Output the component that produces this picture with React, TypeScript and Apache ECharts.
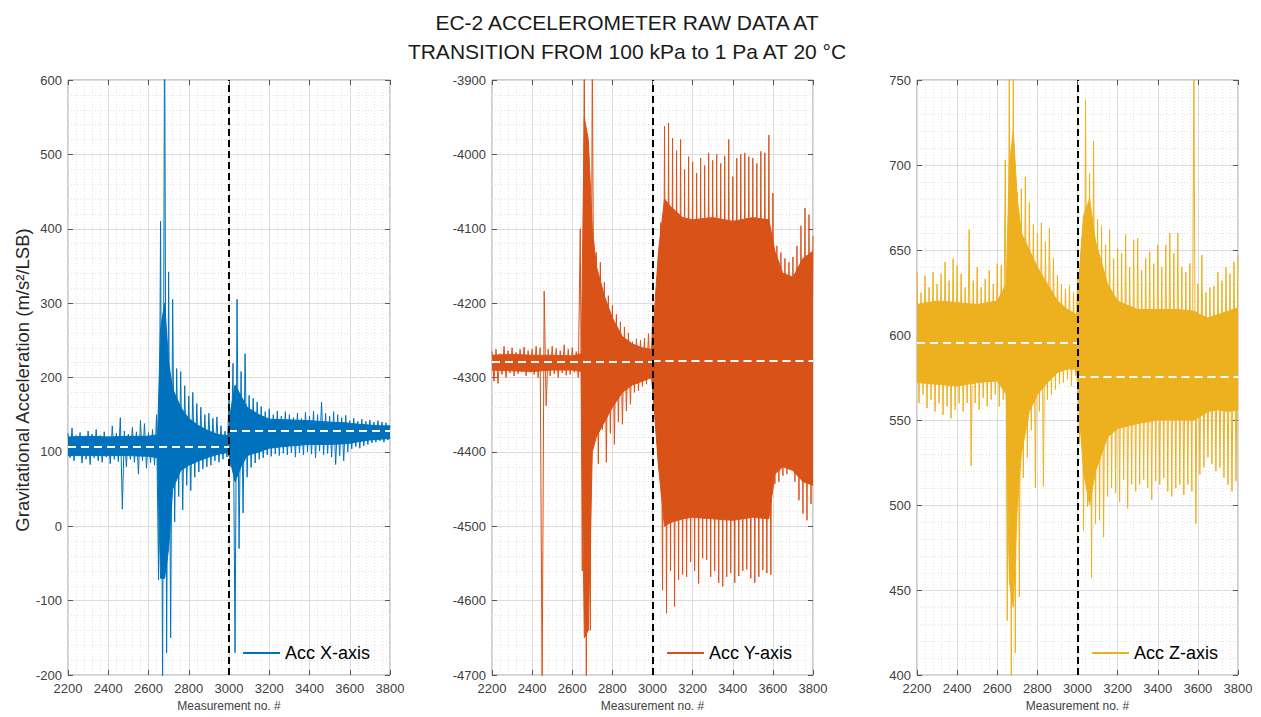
import React, { useEffect, useRef } from "react";
import * as echarts from "echarts";

// ---- Data ----
// Spike traces: alternating upper / lower excursions, sampled every 20 measurements.
const sampleStart = 2200;
const sampleStep = 20;

const accXUpper = [
  125, 132, 122, 126, 120, 128, 124, 130, 122, 127,
  121, 135, 125, 146, 128, 124, 133, 127, 142, 138,
  126, 130, 150, 410, 700, 342, 305, 212, 208, 189,
  175, 180, 165, 160, 150, 152, 145, 147, 135, 128,
  170, 219, 305, 208, 232, 176, 172, 167, 161, 154,
  158, 150, 155, 148, 154, 150, 146, 152, 145, 153,
  148, 155, 150, 167, 152, 148, 154, 150, 146, 149,
  142, 145, 141, 144, 141, 143, 140, 142, 140, 139,
  135,
];
const accXLower = [
  92, 88, 95, 85, 90, 83, 92, 88, 86, 93,
  84, 90, 87, 23, 80, 90, 86, 70, 88, 78,
  85, 82, -72, -220, -170, -150, 6, 40, 22, 55,
  48, 66, 73, 77, 80, 82, 88, 86, 90, 93,
  80, -170, -30, 18, 66, 79, 85, 90, 92, 96,
  94, 97, 95, 98, 96, 99, 93, 99, 96, 100,
  97, 92, 101, 96, 98, 93, 83, 95, 88, 100,
  104, 107, 105, 108, 110, 112, 113, 115, 113, 116,
];
const accYUpper = [
  -4265, -4262, -4268, -4258, -4264, -4260, -4266, -4262, -4259, -4264,
  -4262, -4258, -4260, -4184, -4262, -4258, -4261, -4264, -4256, -4262,
  -4260, -4265, -4100, -3850, -4043, -3860, -4132, -4145, -4172, -4190,
  -4203, -4215, -4225, -4232, -4240, -4252, -4248, -4250, -4247, -4241,
  -4225, -4225, -4092, -3962, -3958, -3978, -3995, -3980, -4020, -4003,
  -4010, -4025, -4005, -4015, -3998, -4008, -4000, -4012, -4002, -3980,
  -4030, -4005, -4000, -3998, -4003, -4005, -4012, -3996, -3998, -3974,
  -4052, -4123, -4132, -4140, -4145, -4138, -4123, -4096, -4072, -4081,
  -4110,
];
const accYLower = [
  -4305, -4308, -4296, -4300, -4294, -4298, -4295, -4292, -4298, -4293,
  -4296, -4300, -4720, -4338, -4298, -4295, -4300, -4294, -4297, -4296,
  -4293, -4300, -4560, -4740, -4640, -4380, -4416, -4370, -4414, -4375,
  -4390, -4360, -4363, -4345, -4336, -4320, -4318, -4312, -4309, -4302,
  -4323, -4420, -4586, -4617, -4560, -4608, -4572, -4565, -4568, -4548,
  -4560, -4577, -4543, -4545, -4568, -4560, -4576, -4581, -4568, -4563,
  -4576, -4567, -4560, -4558, -4570, -4576, -4568, -4559, -4563, -4565,
  -4443, -4440, -4432, -4430, -4416, -4440, -4465, -4483, -4492, -4470,
];
const accZUpper = [
  637, 625, 635, 628, 637, 630, 636, 643, 632, 645,
  641, 636, 628, 662, 632, 640, 628, 633, 638, 630,
  642, 641, 703, 760, 760, 684, 686, 693, 678, 665,
  660, 666, 655, 663, 645, 635, 630, 627, 629, 625,
  635, 657, 738, 695, 714, 668, 664, 653, 662, 645,
  651, 648, 659, 640, 656, 657, 638, 645, 649, 642,
  653, 640, 653, 660, 648, 660, 640, 637, 642, 760,
  630, 647, 625, 628, 629, 637, 632, 640, 636, 643,
  647,
];
const accZLower = [
  560, 565, 557, 562, 555, 560, 553, 558, 551, 556,
  560, 555, 560, 523, 560, 556, 563, 558, 562, 565,
  558, 562, 432, 395, 413, 446, 516, 528, 544, 510,
  555, 511, 562, 565, 568, 571, 572, 574, 570, 576,
  536, 485, 499, 457, 489, 491, 481, 505, 510, 507,
  502, 515, 498, 512, 508, 512, 515, 510, 503, 514,
  512, 516, 508, 505, 510, 512, 506, 512, 508, 489,
  518, 522, 528, 524, 520, 522, 516, 512, 508, 514,
];

// Dense core of each signal (solid band), read at these measurement numbers.
const coreAt = [
  2200, 2300, 2400, 2500, 2600, 2645, 2660, 2680, 2700, 2720,
  2760, 2800, 2850, 2900, 2950, 2995, 3005, 3030, 3060, 3090,
  3150, 3200, 3300, 3400, 3500, 3580, 3610, 3650, 3700, 3750, 3800,
];
const coreXLow = [
  95, 95, 95, 95, 94, 92, -70, -70, -30, 50,
  75, 82, 88, 93, 97, 99, 90, 60, 80, 95,
  100, 105, 108, 110, 110, 111, 112, 114, 116, 117, 118,
];
const coreXHigh = [
  120, 121, 120, 121, 121, 123, 265, 300, 220, 185,
  160, 145, 135, 128, 123, 122, 150, 190, 175, 160,
  150, 144, 143, 142, 140, 139, 138, 137, 136, 135, 135,
];
const coreYLow = [
  -4290, -4291, -4292, -4290, -4290, -4292, -4650, -4640, -4400, -4380,
  -4360, -4340, -4320, -4310, -4305, -4300, -4330, -4420, -4500, -4495,
  -4490, -4488, -4490, -4492, -4488, -4490, -4430, -4420, -4425, -4440, -4445,
];
const coreYHigh = [
  -4270, -4269, -4270, -4270, -4271, -4268, -3950, -3980, -4100, -4150,
  -4190, -4220, -4245, -4255, -4260, -4262, -4230, -4130, -4060, -4070,
  -4085, -4088, -4085, -4090, -4085, -4088, -4130, -4160, -4165, -4140, -4130,
];
const coreZLow = [
  572, 571, 570, 572, 573, 565, 455, 440, 500, 530,
  555, 565, 572, 578, 580, 580, 560, 520, 500, 520,
  540, 545, 548, 550, 550, 550, 552, 555, 556, 555, 556,
];
const coreZHigh = [
  618, 620, 619, 618, 620, 630, 700, 720, 680, 660,
  650, 640, 630, 620, 615, 612, 630, 670, 680, 655,
  630, 620, 615, 615, 615, 614, 612, 610, 612, 614, 616,
];

// Mean values before / after the pressure transition
const transitionAt = 3000;
const meanX = [107, 128];
const meanY = [-4279, -4277];
const meanZ = [595.7, 575.3];

const seriesNames = ["Acc X-axis", "Acc Y-axis", "Acc Z-axis"];
const seriesColors = ["#0072BD", "#D95319", "#EDB120"];
const xTicks = { min: 2200, max: 3800, interval: 200 };
const yRanges = [
  { min: -200, max: 600, interval: 100 },
  { min: -4700, max: -3900, interval: 100 },
  { min: 400, max: 750, interval: 50 },
];

function buildTrace(upper: number[], lower: number[]) {
  const pts: [number, number][] = [];
  for (let i = 0; i < upper.length; i++) {
    const x = sampleStart + i * sampleStep;
    pts.push([x, upper[i]]);
    if (i < lower.length) pts.push([x + sampleStep / 2, lower[i]]);
  }
  return pts;
}

function buildCore(low: number[], high: number[]) {
  return low.map((lo, j) => [coreAt[j], lo, high[j]]);
}

const FONT = "Liberation Sans, Arial, Helvetica, sans-serif";
const fmt = (v: number) => String(v);

export default function App() {
  const ref = useRef<HTMLDivElement>(null);

  useEffect(() => {
    if (!ref.current) return;
    const chart = echarts.init(ref.current, undefined, { renderer: "svg" });

    const grids = [
      { left: 68, top: 80, width: 322, height: 599 },
      { left: 492, top: 80, width: 321, height: 599 },
      { left: 917, top: 80, width: 321, height: 599 },
    ];
    const traces = [
      buildTrace(accXUpper, accXLower),
      buildTrace(accYUpper, accYLower),
      buildTrace(accZUpper, accZLower),
    ];
    const cores = [
      buildCore(coreXLow, coreXHigh),
      buildCore(coreYLow, coreYHigh),
      buildCore(coreZLow, coreZHigh),
    ];
    const means = [meanX, meanY, meanZ];
    const legendPos = [
      { left: 243, top: 644 },
      { left: 667, top: 644 },
      { left: 1092, top: 644 },
    ];

    const tickStyle = { show: true, inside: true, length: 5, lineStyle: { color: "#555" } };
    const xAxes: any[] = [];
    const yAxes: any[] = [];
    grids.forEach((_, i) => {
      xAxes.push({
        type: "value",
        gridIndex: i,
        min: xTicks.min,
        max: xTicks.max,
        interval: xTicks.interval,
        position: "bottom",
        axisLine: { show: false, onZero: false },
        axisTick: tickStyle,
        axisLabel: { color: "#404040", fontSize: 13, fontFamily: FONT, margin: 7, formatter: fmt },
        splitLine: { show: true, lineStyle: { color: "#dcdcdc", width: 1 } },
        minorTick: { show: false, splitNumber: 5 },
        minorSplitLine: { show: true, lineStyle: { color: "#e2e2e2", width: 1, type: [1, 2] } },
        name: "Measurement no. #",
        nameLocation: "middle",
        nameGap: 25,
        nameTextStyle: { color: "#404040", fontSize: 12, fontFamily: FONT },
      });
      yAxes.push({
        type: "value",
        gridIndex: i,
        min: yRanges[i].min,
        max: yRanges[i].max,
        interval: yRanges[i].interval,
        position: "left",
        axisLine: { show: false, onZero: false },
        axisTick: tickStyle,
        axisLabel: { color: "#404040", fontSize: 13, fontFamily: FONT, margin: 6, formatter: fmt },
        splitLine: { show: true, lineStyle: { color: "#dcdcdc", width: 1 } },
        minorTick: { show: false, splitNumber: 5 },
        minorSplitLine: { show: true, lineStyle: { color: "#e2e2e2", width: 1, type: [1, 2] } },
      });
    });
    grids.forEach((_, i) => {
      xAxes.push({
        type: "value",
        gridIndex: i,
        min: xTicks.min,
        max: xTicks.max,
        interval: xTicks.interval,
        position: "top",
        axisLine: { show: false, onZero: false },
        axisTick: tickStyle,
        axisLabel: { show: false },
        splitLine: { show: false },
      });
      yAxes.push({
        type: "value",
        gridIndex: i,
        min: yRanges[i].min,
        max: yRanges[i].max,
        interval: yRanges[i].interval,
        position: "right",
        axisLine: { show: false, onZero: false },
        axisTick: tickStyle,
        axisLabel: { show: false },
        splitLine: { show: false },
      });
    });

    const series: any[] = [];
    grids.forEach((_, i) => {
      const color = seriesColors[i];
      series.push({
        name: "core-" + i,
        type: "custom",
        xAxisIndex: i,
        yAxisIndex: i,
        data: cores[i],
        encode: { x: 0, y: [1, 2] },
        clip: true,
        silent: true,
        z: 1,
        renderItem: (params: any, api: any) => {
          if (params.dataIndexInside !== 0) return null;
          const n = params.dataInsideLength;
          const top: number[][] = [];
          const bottom: number[][] = [];
          for (let j = 0; j < n; j++) {
            const x = api.value(0, j);
            top.push(api.coord([x, api.value(2, j)]));
            bottom.push(api.coord([x, api.value(1, j)]));
          }
          return {
            type: "polygon",
            shape: { points: top.concat(bottom.reverse()) },
            style: { fill: color, stroke: color, lineWidth: 1 },
          };
        },
      });
    });
    grids.forEach((_, i) => {
      const m = means[i];
      series.push({
        name: seriesNames[i],
        type: "line",
        xAxisIndex: i,
        yAxisIndex: i,
        data: traces[i],
        symbol: "none",
        showSymbol: false,
        clip: true,
        lineStyle: { color: seriesColors[i], width: 1 },
        itemStyle: { color: seriesColors[i] },
        z: 2,
        markLine: {
          silent: true,
          symbol: "none",
          animation: false,
          label: { show: false },
          data: [
            [
              { coord: [xTicks.min, m[0]], lineStyle: { color: "#ffffff", width: 2, type: [8, 5] } },
              { coord: [transitionAt, m[0]] },
            ],
            [
              { coord: [transitionAt, m[1]], lineStyle: { color: "#ffffff", width: 2, type: [8, 5] } },
              { coord: [xTicks.max, m[1]] },
            ],
            { xAxis: transitionAt, lineStyle: { color: "#000000", width: 2, type: [7, 4] } },
          ],
        },
      });
    });

    const option: any = {
      animation: false,
      backgroundColor: "#ffffff",
      grid: grids.map((g) => ({
        ...g,
        show: true,
        borderColor: "#9a9a9a",
        borderWidth: 1,
        backgroundColor: "transparent",
      })),
      xAxis: xAxes,
      yAxis: yAxes,
      legend: grids.map((_, i) => ({
        data: [{ name: seriesNames[i], icon: "rect" }],
        left: legendPos[i].left,
        top: legendPos[i].top,
        padding: 0,
        itemWidth: 37,
        itemHeight: 2,
        itemGap: 5,
        selectedMode: false,
        textStyle: { color: "#000", fontSize: 18, fontFamily: FONT },
      })),
      series,
      graphic: [
        {
          type: "text",
          x: 627,
          y: 22,
          style: {
            text: "EC-2 ACCELEROMETER RAW DATA AT",
            fontSize: 21,
            fontFamily: FONT,
            fill: "#1a1a1a",
            textAlign: "center",
            textVerticalAlign: "middle",
          },
        },
        {
          type: "text",
          x: 627,
          y: 51,
          style: {
            text: "TRANSITION FROM 100 kPa to 1 Pa AT 20 °C",
            fontSize: 21,
            fontFamily: FONT,
            fill: "#1a1a1a",
            textAlign: "center",
            textVerticalAlign: "middle",
          },
        },
        {
          type: "text",
          x: 22,
          y: 380,
          rotation: Math.PI / 2,
          style: {
            text: "Gravitational Acceleration (m/s²/LSB)",
            fontSize: 18.5,
            fontFamily: FONT,
            fill: "#262626",
            textAlign: "center",
            textVerticalAlign: "middle",
          },
        },
      ],
    };

    chart.setOption(option);
    return () => chart.dispose();
  }, []);

  return (
    <div
      ref={ref}
      style={{ position: "fixed", left: 0, top: 0, width: 1261, height: 717, background: "#fff" }}
    />
  );
}
